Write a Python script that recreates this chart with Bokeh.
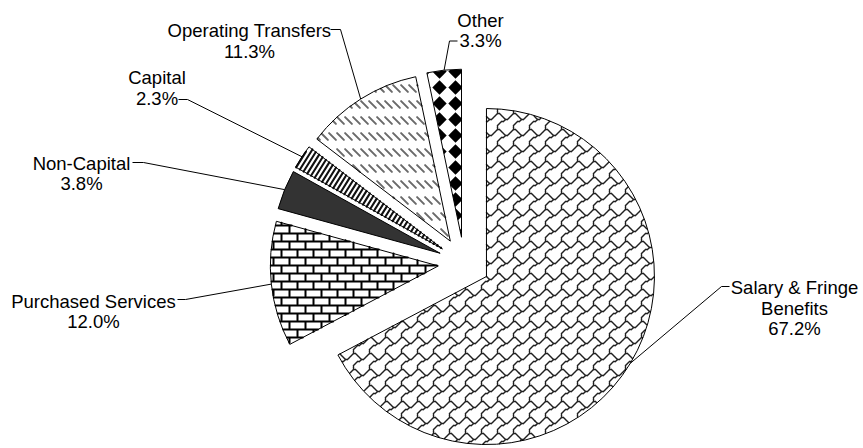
import math
import numpy as np
from bokeh.plotting import figure
from bokeh.models import Range1d
from bokeh.embed import file_html
from bokeh.resources import INLINE
from bokeh.core.properties import value

# ---------------- data ----------------
categories = ["Salary & Fringe Benefits", "Purchased Services", "Non-Capital",
              "Capital", "Operating Transfers", "Other"]
label_lines = [["Salary & Fringe", "Benefits"], ["Purchased Services"], ["Non-Capital"],
               ["Capital"], ["Operating Transfers"], ["Other"]]
shares = [67.2, 12.0, 3.8, 2.3, 11.3, 3.3]

# ---------------- layout ----------------
W, H = 863, 448
def yd(py):          # page y (down) -> data y (up)
    return H - py

CX, CY = 463.7, 262.6      # pie centre, page px
R = 168
EXPLODE = 26

# label block: centre x, first baseline y (page px)
label_pos = [(794, 287), (93, 300.7), (81, 162.7), (156.5, 77.3), (249, 30), (480, 19.7)]
LINE_STEP = 20.6
# leader: start point at label, elbow point (page px)
leader_pts = [((729, 286), (721, 286)), ((177, 299), (185, 299)), ((132, 162), (143, 162)),
              ((178, 99), (187, 99)), ((330, 29), (340, 29)), ((457, 40.5), (449, 40.5))]

# ---------------- geometry helpers (page coords) ----------------
def sector_poly(ox, oy, r, a_from, a_to, n=48):
    a = np.linspace(a_from, a_to, n)
    pts = np.column_stack([ox + r * np.cos(a), oy - r * np.sin(a)])
    return np.vstack([[ox, oy], pts])

def inward(poly):
    c = poly.mean(axis=0)
    out = []
    M = len(poly)
    for j in range(M):
        A = poly[j]; B = poly[(j + 1) % M]
        n = np.array([-(B[1] - A[1]), B[0] - A[0]])
        if np.hypot(*n) < 1e-9:
            continue
        if np.dot(n, c - A) < 0:
            n = -n
        out.append((A, n))
    return out

def clip_segments(P0, P1, poly):
    d = P1 - P0
    tE = np.zeros(len(P0)); tL = np.ones(len(P0)); keep = np.ones(len(P0), bool)
    for A, n in inward(poly):
        num = (P0 - A) @ n
        den = d @ n
        par = np.abs(den) < 1e-12
        keep &= ~(par & (num < 0))
        with np.errstate(divide="ignore", invalid="ignore"):
            t = -num / den
        tE = np.where(den > 1e-12, np.maximum(tE, t), tE)
        tL = np.where(den < -1e-12, np.minimum(tL, t), tL)
    keep &= tE < tL
    return (P0 + tE[:, None] * d)[keep], (P0 + tL[:, None] * d)[keep]

def clip_polygon(subject, poly):
    out = [np.asarray(p, float) for p in subject]
    for A, n in inward(poly):
        if not out:
            break
        inp, out = out, []
        for k in range(len(inp)):
            Pc, Pp = inp[k], inp[k - 1]
            fc, fp = np.dot(n, Pc - A), np.dot(n, Pp - A)
            if fc >= 0:
                if fp < 0:
                    out.append(Pp + fp / (fp - fc) * (Pc - Pp))
                out.append(Pc)
            elif fp >= 0:
                out.append(Pp + fp / (fp - fc) * (Pc - Pp))
    return out

def tiles(bbox, T):
    x0, y0, x1, y1 = bbox
    for i in range(int(math.floor(x0 / T)) - 1, int(math.ceil(x1 / T)) + 1):
        for j in range(int(math.floor(y0 / T)) - 1, int(math.ceil(y1 / T)) + 1):
            yield i * T, j * T

# ---------------- pattern generators (segments or polygons, page coords) ----------------
def pat_shingle(bbox):
    A = [(0.5, .5), (1.5, .5), (2.5, 1.5), (3.5, 2.5), (4.5, 3.5), (5.5, 3.5), (6.5, 2.5), (7.5, 1.5), (8.5, .5)]
    B = [(4.5, 3.5), (3.5, 4.5), (2.5, 4.5), (1.5, 5.5), (0.5, 6.5), (0.5, 7.5), (0.5, 8.5)]
    segs = []
    for tx, ty in tiles(bbox, 16):
        for pl in (A, B):
            for (ax, ay), (bx, by) in zip(pl[:-1], pl[1:]):
                segs.append((tx + 2 * ax, ty + 2 * ay, tx + 2 * bx, ty + 2 * by))
    return np.array(segs)

def pat_brick(bbox):
    x0, y0, x1, y1 = bbox
    segs = []
    for j in range(int(y0 // 8) - 1, int(y1 // 8) + 2):
        segs.append((x0 - 2, j * 8 + 1, x1 + 2, j * 8 + 1))
    for tx, ty in tiles(bbox, 16):
        segs.append((tx + 1, ty + 2, tx + 1, ty + 8))
        segs.append((tx + 9, ty + 10, tx + 9, ty + 16))
    return np.array(segs, float)

def pat_stripes(bbox):
    x0, y0, x1, y1 = bbox
    m, per = 1.6, 8.0            # y = c - m*x  (steep "/" stripes)
    segs = []
    for k in range(int((m * x0 + y0) // per) - 3, int((m * x1 + y1) // per) + 4):
        c = per * k
        ya, yb = y0 - 6, y1 + 6
        segs.append(((c - ya) / m, ya, (c - yb) / m, yb))
    return np.array(segs, float)

def pat_dashes(bbox):
    segs = []
    for tx, ty in tiles(bbox, 16):
        segs.append((tx + 0.6, ty + 4.6, tx + 7.4, ty + 11.4))
        segs.append((tx + 8.6, ty + 4.6, tx + 15.4, ty + 11.4))
    return np.array(segs, float)

def pat_diamonds(bbox):
    polys = []
    for tx, ty in tiles(bbox, 16):
        polys.append([(tx + 7, ty - 0.2), (tx + 14.2, ty + 7), (tx + 7, ty + 14.2), (tx - 0.2, ty + 7)])
    return polys

styles = [
    dict(fill="white", kind="seg", gen=pat_shingle, color="#202020", width=1.3),
    dict(fill="white", kind="seg", gen=pat_brick, color="#000000", width=2.0),
    dict(fill="#333333", kind=None),
    dict(fill="white", kind="seg", gen=pat_stripes, color="#111111", width=2.1),
    dict(fill="white", kind="seg", gen=pat_dashes, color="#6a6a6a", width=2.0),
    dict(fill="white", kind="poly", gen=pat_diamonds, color="#000000"),
]

# ---------------- figure ----------------
p = figure(width=W, height=H, x_range=Range1d(0, W), y_range=Range1d(0, H),
           toolbar_location=None, output_backend="svg", min_border=0)
p.axis.visible = False
p.grid.visible = False
p.outline_line_color = None
p.background_fill_color = "white"
p.border_fill_color = "white"

total = sum(shares)
cum = 0.0
arc_mids = []
for i, v in enumerate(shares):
    a0 = math.radians(90 - 360 * cum / total)
    cum += v
    a1 = math.radians(90 - 360 * cum / total)
    mid = (a0 + a1) / 2
    ox = CX + EXPLODE * math.cos(mid)
    oy = CY - EXPLODE * math.sin(mid)
    arc_mids.append((ox + R * math.cos(mid), oy - R * math.sin(mid)))
    st = styles[i]
    # fill
    p.wedge(x=[ox], y=[yd(oy)], radius=R, start_angle=a1, end_angle=a0, direction="anticlock",
            fill_color=st["fill"], line_color=None)
    # pattern, clipped to convex sub-sectors
    if st["kind"]:
        nparts = int(math.ceil((a0 - a1) / math.radians(90)))
        edges = np.linspace(a1, a0, nparts + 1)
        for k in range(nparts):
            poly = sector_poly(ox, oy, R - 0.5, edges[k], edges[k + 1])
            bbox = (poly[:, 0].min(), poly[:, 1].min(), poly[:, 0].max(), poly[:, 1].max())
            if st["kind"] == "seg":
                S = st["gen"](bbox)
                Q0, Q1 = clip_segments(S[:, :2], S[:, 2:], poly)
                p.segment(x0=Q0[:, 0], y0=yd(Q0[:, 1]), x1=Q1[:, 0], y1=yd(Q1[:, 1]),
                          line_color=st["color"], line_width=st["width"], line_cap="round")
            else:
                pxs, pys = [], []
                for sub in st["gen"](bbox):
                    c = clip_polygon(sub, poly)
                    if len(c) >= 3:
                        c = np.array(c)
                        pxs.append(list(c[:, 0])); pys.append(list(yd(c[:, 1])))
                p.patches(xs=pxs, ys=pys, fill_color=st["color"], line_color=None)
    # outline
    p.wedge(x=[ox], y=[yd(oy)], radius=R, start_angle=a1, end_angle=a0, direction="anticlock",
            fill_color=None, line_color="black", line_width=1)

# leaders
xs, ys = [], []
for (s, e), m in zip(leader_pts, arc_mids):
    xs.append([s[0], e[0], m[0]])
    ys.append([yd(s[1]), yd(e[1]), yd(m[1])])
p.multi_line(xs=xs, ys=ys, line_color="black", line_width=1)

# labels
tx, ty, tt = [], [], []
for lines, v, (lx, ly) in zip(label_lines, shares, label_pos):
    for k, t in enumerate(lines + [f"{v:.1f}%"]):
        tx.append(lx); ty.append(yd(ly + k * LINE_STEP)); tt.append(t)
p.text(x=tx, y=ty, text=tt, text_font=value("Liberation Sans"), text_font_size="18.5px",
       text_align="center", text_baseline="alphabetic", text_color="black")

open("out.html", "w").write(file_html(p, INLINE))
